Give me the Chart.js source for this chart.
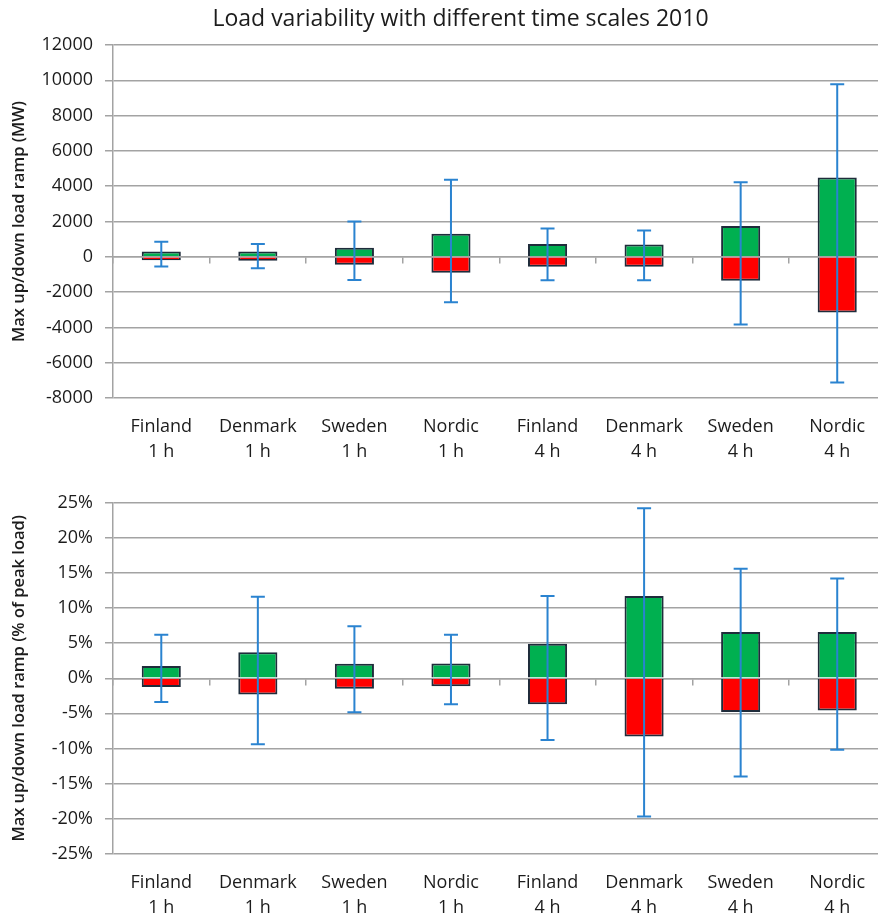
<!DOCTYPE html>
<html lang="en">
<head>
  <meta charset="UTF-8">
  <title>Load variability with different time scales 2010</title>
  <script src="https://cdn.jsdelivr.net/npm/chart.js"></script>
  <style>
    html, body { margin: 0; padding: 0; background: #fff; overflow: hidden; }
    .box { position: absolute; left: 0; width: 921px; }
    #topBox { top: 0; height: 470px; }
    #bottomBox { top: 470px; height: 447px; }
  </style>
</head>
<body>
  <div class="box" id="topBox"><canvas id="mwChart"></canvas></div>
  <div class="box" id="bottomBox"><canvas id="pctChart"></canvas></div>

  <script>
    // categories
    const countries  = ['Finland', 'Denmark', 'Sweden', 'Nordic', 'Finland', 'Denmark', 'Sweden', 'Nordic'];
    const timeScales = ['1 h', '1 h', '1 h', '1 h', '4 h', '4 h', '4 h', '4 h'];

    // top panel, MW
    const mwUp    = [300, 300, 510, 1300, 720, 700, 1750, 4500];
    const mwDown  = [-200, -220, -450, -900, -570, -570, -1350, -3150];
    const mwHigh  = [850, 720, 2000, 4370, 1600, 1490, 4220, 9780];
    const mwLow   = [-550, -650, -1320, -2580, -1330, -1330, -3840, -7120];
    const mwTicks = [-8000, 12000, 2000];   // min, max, step

    // bottom panel, % of peak load
    const pctUp    = [1.75, 3.7, 2.05, 2.1, 4.9, 11.7, 6.6, 6.6];
    const pctDown  = [-1.25, -2.3, -1.5, -1.15, -3.7, -8.3, -4.8, -4.6];
    const pctHigh  = [6.2, 11.6, 7.4, 6.2, 11.7, 24.2, 15.6, 14.2];
    const pctLow   = [-3.4, -9.4, -4.85, -3.7, -8.8, -19.7, -14.0, -10.2];
    const pctTicks = [-25, 25, 5];

    const labels = countries.map((c, i) => [c, timeScales[i]]);

    const FONT  = '"Open Sans", "DejaVu Sans", sans-serif';
    const GREEN = '#00b050', RED = '#ff0000', EDGE = '#1f2c3b';
    const BLUE  = '#2a83d0', GRID = '#a3a3a3', TEXT = '#1c1c1c';

    function buildChart(id, o) {
      const ctx = document.getElementById(id).getContext('2d');
      return new Chart(ctx, {
        data: {
          labels,
          datasets: [
            { type: 'bar', data: o.up, backgroundColor: GREEN, borderColor: EDGE, borderWidth: 2,
              grouped: false, categoryPercentage: 1, barPercentage: 0.405, order: 2 },
            { type: 'bar', data: o.down, backgroundColor: RED, borderColor: EDGE, borderWidth: 2,
              grouped: false, categoryPercentage: 1, barPercentage: 0.405, order: 2 },
            // whisker
            { type: 'bar', data: o.low.map((l, i) => [l, o.high[i]]), backgroundColor: BLUE,
              borderWidth: 0, grouped: false, maxBarThickness: 2, order: 1 },
            // caps
            { type: 'line', data: o.high, showLine: false, pointStyle: 'line', pointRadius: 7,
              pointBorderColor: BLUE, pointBorderWidth: 2, order: 0 },
            { type: 'line', data: o.low, showLine: false, pointStyle: 'line', pointRadius: 7,
              pointBorderColor: BLUE, pointBorderWidth: 2, order: 0 }
          ]
        },
        options: {
          responsive: true, maintainAspectRatio: false, animation: false,
          layout: { padding: { top: o.padTop, right: 0, left: 0, bottom: 0 } },
          plugins: {
            legend: { display: false },
            tooltip: { enabled: false },
            title: {
              display: !!o.title, text: o.title, color: TEXT,
              font: { family: FONT, size: 23, weight: 'normal', lineHeight: 1.2 },
              padding: { top: 5.2, bottom: 12.2 }
            }
          },
          scales: {
            x: {
              type: 'category', offset: true, stacked: false,
              grid: { display: false, drawTicks: false },
              border: { display: false },
              ticks: { color: TEXT, font: { family: FONT, size: 18, lineHeight: 1.42 }, padding: 16,
                maxRotation: 0, autoSkip: false },
              afterFit: s => { s.height = o.xHeight; }
            },
            x2: {
              type: 'category', offset: true, position: { y: 0 }, z: 1,
              grid: { offset: true, drawOnChartArea: false, drawTicks: true, tickLength: 6,
                color: GRID, lineWidth: 1.5 },
              border: { display: true, color: GRID, width: 1.5 },
              ticks: { display: false }
            },
            y: {
              stacked: false, min: o.ticks[0], max: o.ticks[1],
              grid: { color: GRID, lineWidth: 1.5, tickLength: 8 },
              border: { display: true, color: GRID, width: 1.5 },
              ticks: { stepSize: o.ticks[2], color: TEXT, padding: 12,
                font: { family: FONT, size: 18 }, callback: o.fmt },
              title: { display: true, text: o.yTitle, color: TEXT,
                font: { family: FONT, size: 16.5, weight: '600' }, padding: { top: 9, bottom: 0 } },
              afterFit: s => { s.width = 113; }
            },
            // empty strip on the right: the plot runs past the cropped edge
            yRight: {
              type: 'linear', position: 'right',
              grid: { display: false }, border: { display: false }, ticks: { display: false },
              afterFit: s => { s.width = 35.5; }
            }
          }
        }
      });
    }

    buildChart('mwChart', {
      up: mwUp, down: mwDown, high: mwHigh, low: mwLow, ticks: mwTicks,
      title: 'Load variability with different time scales 2010',
      yTitle: 'Max up/down load ramp (MW)',
      fmt: v => v, padTop: 0, xHeight: 72
    });

    buildChart('pctChart', {
      up: pctUp, down: pctDown, high: pctHigh, low: pctLow, ticks: pctTicks,
      title: '',
      yTitle: 'Max up/down load ramp (% of peak load)',
      fmt: v => v + '%', padTop: 32.7, xHeight: 63.2
    });
  </script>
</body>
</html>
